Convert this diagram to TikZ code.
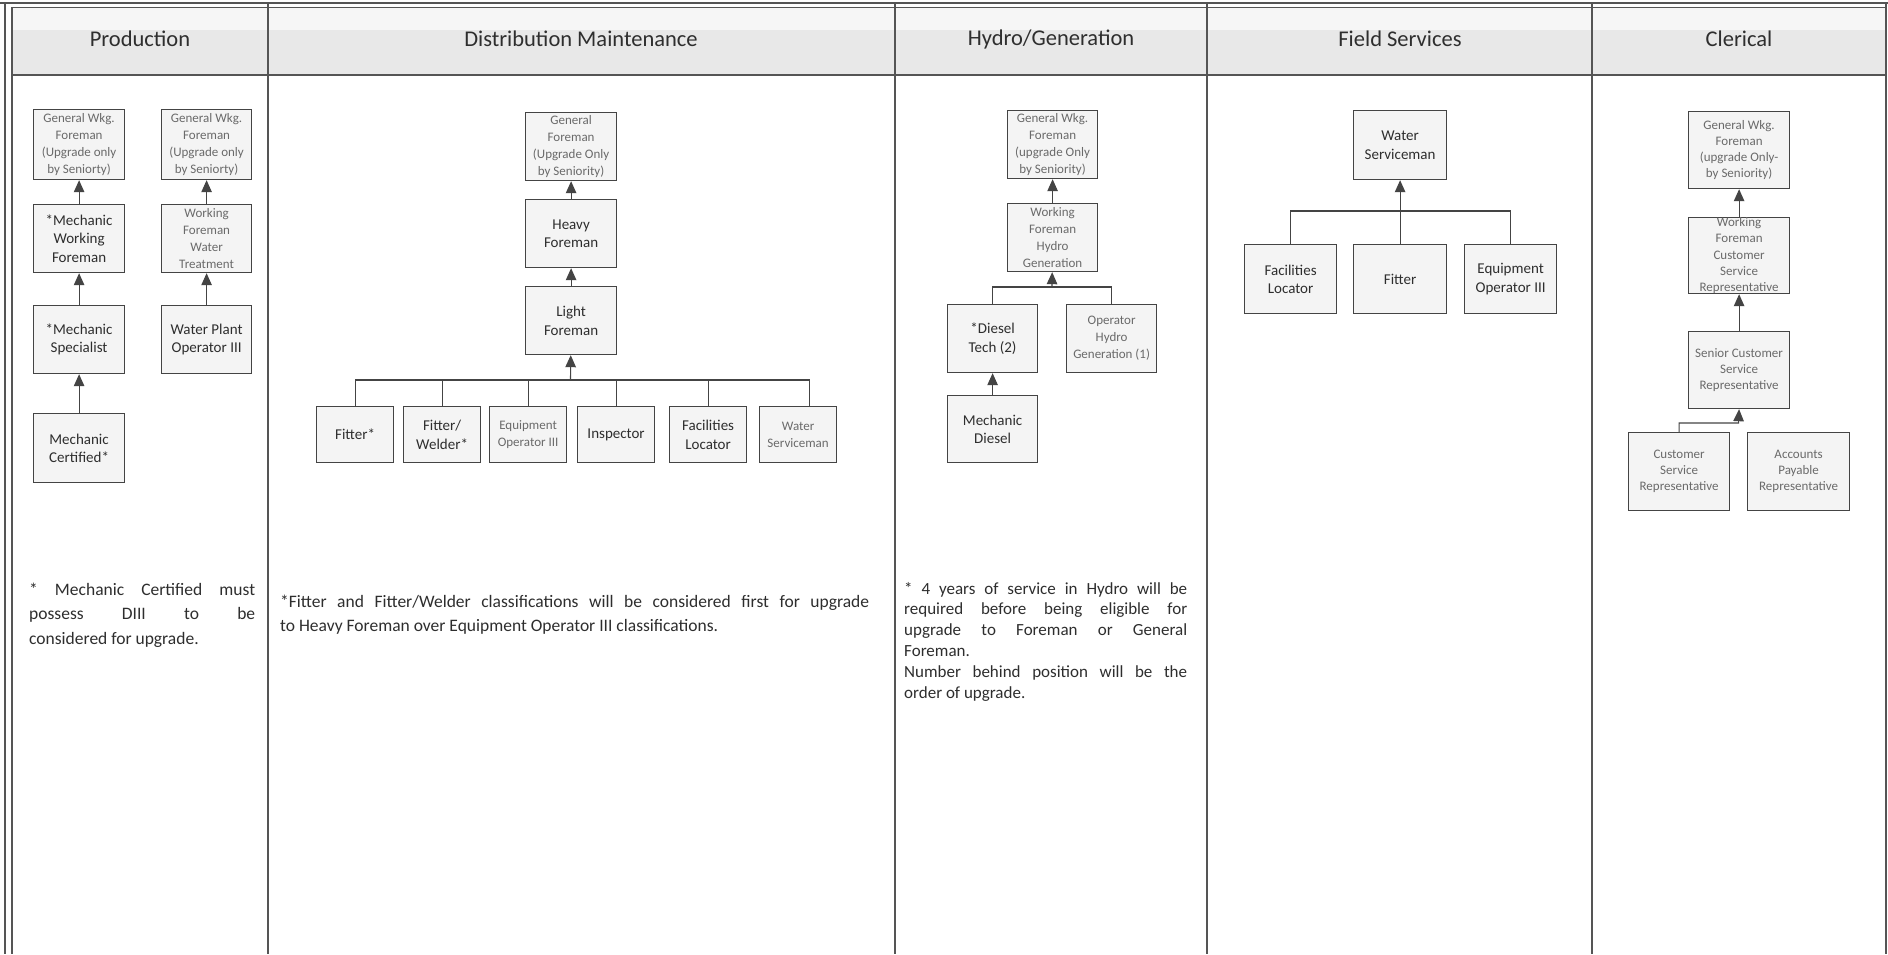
\documentclass[tikz,border=0pt]{standalone}
\usepackage{fontspec}
\setmainfont{Carlito}
\usetikzlibrary{arrows.meta}
\definecolor{boxc}{HTML}{444444}
\definecolor{boxfill}{HTML}{F4F4F4}
\definecolor{txtdark}{HTML}{2E2E2E}
\definecolor{txtgray}{HTML}{6A6A6A}
\definecolor{rulec}{HTML}{555555}
\definecolor{headfill}{HTML}{E8E8E8}
\hbadness=10000 \hfuzz=80pt
\begin{document}
\begin{tikzpicture}[x=1pt,y=-1pt,
 bx/.style={draw=boxc, fill=boxfill, line width=1.2pt, inner sep=0pt, align=center, anchor=north west},
 bigt/.style={font=\fontsize{15}{18.5}\selectfont, text=txtdark},
 smt/.style={font=\fontsize{13}{17}\selectfont, text=txtgray},
 cst/.style={font=\fontsize{13}{16.2}\selectfont, text=txtgray},
 con/.style={draw=boxc, line width=1.1pt},
 arr/.style={con, -{Triangle[length=12pt,width=10.5pt]}},
 hd/.style={font=\fontsize{22.5}{27}\selectfont, text=txtdark, inner sep=0pt},
 col/.style={draw=rulec, line width=1.8pt},
 note/.style={inner sep=0pt, anchor=base west, text=txtdark}
]
\useasboundingbox (0,0) rectangle (1888,954);
\fill[white] (0,0) rectangle (1888,954);
% header band
\fill[headfill] (12,7) rectangle (1886,75);
\fill[white!60!headfill] (12,7) rectangle (1886,30);
% frame and column lines
\draw[col] (0,3) -- (1888,3);
\draw[col, line width=1pt] (12,7) -- (1886,7);
\draw[col] (12,75) -- (1886,75);
\draw[col] (5,3) -- (5,954);
\draw[col] (12,7) -- (12,954);
\draw[col] (268,3) -- (268,954);
\draw[col] (895,3) -- (895,954);
\draw[col] (1207,3) -- (1207,954);
\draw[col] (1592,3) -- (1592,954);
\draw[col] (1886,3) -- (1886,954);
% headers
\node[hd] (hp) at (140,39) {Production};
\node[hd] (hdm) at (581,39) {Distribution Maintenance};
\node[hd] (hh) at (1051,39) {Hydro/Generation};
\node[hd] (hf) at (1400,39) {Field Services};
\node[hd] (hc) at (1739,39) {Clerical};

% ---------------- Production
\node[bx, smt, minimum width=91pt, minimum height=70pt] (a1) at (33,109) {General Wkg.\\Foreman\\(Upgrade only\\by Seniorty)};
\node[bx, bigt, minimum width=91pt, minimum height=68pt] (a2) at (33,204) {*Mechanic\\Working\\Foreman};
\node[bx, bigt, minimum width=91pt, minimum height=68pt] (a3) at (33,305) {*Mechanic\\Specialist};
\node[bx, bigt, minimum width=91pt, minimum height=69pt] (a4) at (33,413) {Mechanic\\Certified*};
\node[bx, smt, minimum width=90pt, minimum height=70pt] (b1) at (161,109) {General Wkg.\\Foreman\\(Upgrade only\\by Seniorty)};
\node[bx, smt, minimum width=90pt, minimum height=68pt] (b2) at (161,204) {Working\\Foreman\\Water\\Treatment};
\node[bx, bigt, minimum width=90pt, minimum height=68pt] (b3) at (161,305) {Water Plant\\Operator III};
\draw[arr] (a4) -- (a3);
\draw[arr] (a3) -- (a2);
\draw[arr] (a2) -- (a1);
\draw[arr] (b3) -- (b2);
\draw[arr] (b2) -- (b1);
\node[note] (pnote) at (29,595) {\fontsize{17.5}{24.5}\selectfont\parbox[t]{226pt}{* Mechanic Certified must\linebreak possess DIII to be\linebreak considered for upgrade.}};

% ---------------- Distribution Maintenance
\node[bx, smt, minimum width=91pt, minimum height=68pt] (gf) at (525,112) {General\\Foreman\\(Upgrade Only\\by Seniority)};
\node[bx, bigt, minimum width=91pt, minimum height=68pt] (hvf) at (525,199) {Heavy\\Foreman};
\node[bx, bigt, minimum width=91pt, minimum height=68pt] (lf) at (525,286) {Light\\Foreman};
\node[bx, bigt, minimum width=77pt, minimum height=56pt] (d1) at (316,406) {Fitter*};
\node[bx, bigt, minimum width=77pt, minimum height=56pt] (d2) at (403,406) {Fitter/\\Welder*};
\node[bx, smt, minimum width=77pt, minimum height=56pt] (d3) at (489,406) {Equipment\\Operator III};
\node[bx, bigt, minimum width=77pt, minimum height=56pt] (d4) at (577,406) {Inspector};
\node[bx, bigt, minimum width=77pt, minimum height=56pt] (d5) at (669,406) {Facilities\\Locator};
\node[bx, smt, minimum width=77pt, minimum height=56pt] (d6) at (759,406) {Water\\Serviceman};
\coordinate (dbus) at (570.5,380);
\draw[arr] (hvf) -- (gf);
\draw[arr] (lf) -- (hvf);
\draw[arr] (dbus) -- (lf);
\draw[con] (d1.north) |- ([xshift=11pt]d6.north |- dbus) -- ([xshift=11pt]d6.north);
\draw[con] (d2.north) -- (d2.north |- dbus);
\draw[con] (d3.north) -- (d3.north |- dbus);
\draw[con] (d4.north) -- (d4.north |- dbus);
\draw[con] (d5.north) -- (d5.north |- dbus);
\node[note] (dnote) at (280,607) {\fontsize{17.5}{24}\selectfont\parbox[t]{589pt}{*Fitter and Fitter/Welder classifications will be considered first for upgrade\linebreak to Heavy Foreman over Equipment Operator III classifications.}};

% ---------------- Hydro/Generation
\node[bx, smt, minimum width=90pt, minimum height=68pt] (h1) at (1007,110) {General Wkg.\\Foreman\\(upgrade Only\\by Seniority)};
\node[bx, smt, minimum width=90pt, minimum height=68pt] (h2) at (1007,203) {Working\\Foreman\\Hydro\\Generation};
\node[bx, bigt, minimum width=90pt, minimum height=68pt] (h3) at (947,304) {*Diesel\\Tech (2)};
\node[bx, smt, minimum width=90pt, minimum height=68pt] (h4) at (1066,304) {Operator\\Hydro\\Generation (1)};
\node[bx, bigt, minimum width=90pt, minimum height=67pt] (h5) at (947,395) {Mechanic\\Diesel};
\coordinate (hbus) at (1052,287);
\draw[arr] (h2) -- (h1);
\draw[arr] (hbus) -- (h2);
\draw[con] (h3.north) |- (h4.north |- hbus) -- (h4.north);
\draw[arr] (h5) -- (h3);
\node[note] (hnote) at (904,594) {\fontsize{17}{20.8}\selectfont\parbox[t]{283pt}{* 4 years of service in Hydro will be\linebreak required before being eligible for\linebreak upgrade to Foreman or General\linebreak Foreman.\\Number behind position will be the\linebreak order of upgrade.}};

% ---------------- Field Services
\node[bx, bigt, minimum width=93pt, minimum height=69pt] (fw) at (1353,110) {Water\\Serviceman};
\node[bx, bigt, minimum width=92pt, minimum height=69pt] (fl) at (1244,244) {Facilities\\Locator};
\node[bx, bigt, minimum width=93pt, minimum height=69pt] (ft) at (1353,244) {Fitter};
\node[bx, bigt, minimum width=92pt, minimum height=69pt] (fe) at (1464,244) {Equipment\\Operator III};
\coordinate (fbus) at (1399.5,211);
\draw[con] (fl.north) |- (fe.north |- fbus) -- (fe.north);
\draw[arr] (ft) -- (fw);

% ---------------- Clerical
\node[bx, cst, minimum width=101pt, minimum height=77pt] (c1) at (1688,111) {General Wkg.\\Foreman\\(upgrade Only-\\by Seniority)};
\node[bx, cst, minimum width=101pt, minimum height=76pt] (c2) at (1688,217) {Working\\Foreman\\Customer\\Service\\Representative};
\node[bx, cst, minimum width=101pt, minimum height=77pt] (c3) at (1688,331) {Senior Customer\\Service\\Representative};
\node[bx, cst, minimum width=101pt, minimum height=78pt] (c4) at (1628,432) {Customer\\Service\\Representative};
\node[bx, cst, minimum width=102pt, minimum height=78pt] (c5) at (1747,432) {Accounts\\Payable\\Representative};
\coordinate (cbus) at (1738.5,423);
\draw[arr] (c2) -- (c1);
\draw[arr] (c3) -- (c2);
\draw[arr] (c4.north) |- (cbus) -- (c3.south);
\end{tikzpicture}
\end{document}
